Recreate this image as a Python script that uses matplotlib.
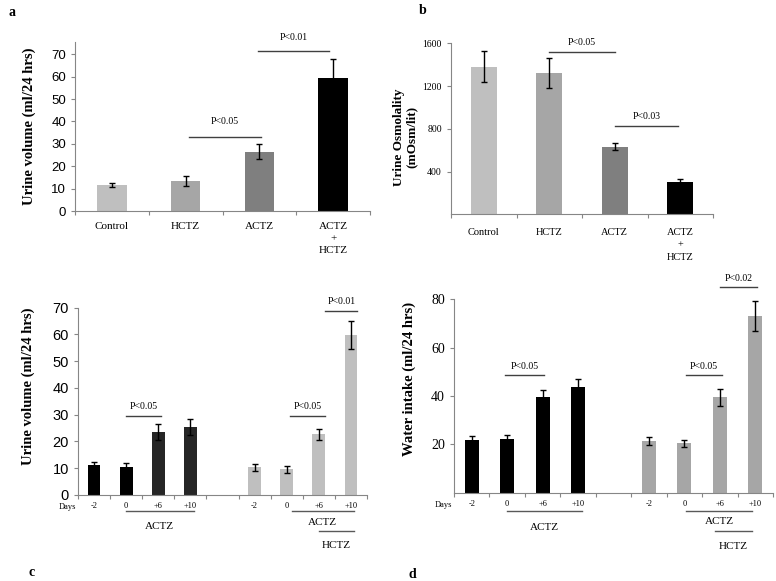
import numpy as np
import matplotlib
matplotlib.use('Agg')
import matplotlib.pyplot as plt

plt.rcParams['font.family'] = ['Liberation Serif', 'DejaVu Serif']

# panel a / b : four treatment groups
groups = ['Control', 'HCTZ', 'ACTZ', 'ACTZ\n+\nHCTZ']
colors4 = ['#bfbfbf', '#a6a6a6', '#7f7f7f', '#000000']
vol_a = [11.5, 13.5, 26.5, 59.5]
vol_a_err = [1.0, 2.3, 3.4, 8.5]
osm_b = [1380, 1320, 632, 300]
osm_b_err = [145, 140, 33, 32]

# panel c / d : time course (-2, 0, +6, +10 days), ACTZ and ACTZ+HCTZ
days = ['-2', '0', '+6', '+10']
vol_c1 = [11.2, 10.6, 23.7, 25.5]
vol_c1_err = [1.2, 1.2, 3.0, 2.9]
vol_c2 = [10.3, 9.7, 22.7, 59.8]
vol_c2_err = [1.3, 1.3, 2.0, 5.4]
wat_d1 = [21.8, 22.1, 39.7, 43.6]
wat_d1_err = [1.7, 1.8, 2.8, 3.4]
wat_d2 = [21.4, 20.4, 39.4, 73.2]
wat_d2_err = [1.6, 1.3, 3.5, 6.2]

W, H = 776, 581
fig = plt.figure(figsize=(W / 100, H / 100), dpi=100)
AX_C = '#868686'
BR_C = '#404040'


def box(x0, x1, ytop, ybot):
    return [x0 / W, 1 - ybot / H, (x1 - x0) / W, (ybot - ytop) / H]


def style(ax):
    for s in ['top', 'right']:
        ax.spines[s].set_visible(False)
    for s in ['left', 'bottom']:
        ax.spines[s].set_color(AX_C)
        ax.spines[s].set_linewidth(0.8)
    ax.tick_params(axis='y', length=3, color=AX_C, width=0.8)
    ax.tick_params(axis='x', which='major', length=0)
    ax.tick_params(axis='x', which='minor', length=3, color=AX_C, width=0.8)


def bracket(ax, x0, x1, y, ty, text):
    ax.plot([x0, x1], [y, y], color=BR_C, lw=1, clip_on=False)
    ax.text((x0 + x1) / 2, ty, text, ha='center', va='center', fontsize=7, clip_on=False)


def under(ax, x0, x1, y, ty, text):
    ax.plot([x0, x1], [y, y], color='#595959', lw=1, clip_on=False, transform=ax.get_xaxis_transform())
    ax.text((x0 + x1) / 2, ty, text, ha='center', va='center', fontsize=8,
            transform=ax.get_xaxis_transform(), clip_on=False)


ekw = dict(ecolor='black', elinewidth=1, capsize=2.5, capthick=1)

# ---- a ----
ax = fig.add_axes(box(75, 370, 42, 211))
x = np.arange(4)
ax.bar(x, vol_a, width=0.4, color=colors4, yerr=vol_a_err, error_kw=ekw)
ax.set_xlim(-0.5, 3.5)
ax.set_ylim(0, 75.5)
ax.set_yticks(range(0, 71, 10))
ax.set_xticks(x)
ax.set_xticks(np.arange(-0.5, 4, 1), minor=True)
ax.set_xticklabels(groups, fontsize=8, va='top', linespacing=1.45)
for t in ax.get_yticklabels():
    t.set_family(['Liberation Sans'])
    t.set_fontsize(9.5)
style(ax)
ax.tick_params(axis='x', which='major', pad=8)
ax.set_ylabel('Urine volume (ml/24 hrs)', fontsize=10.5, fontweight='bold')
ax.yaxis.set_label_coords(-0.133, 0.5)
bracket(ax, 1.05, 2.02, 33, 40, 'P<0.05')
bracket(ax, 1.98, 2.95, 71.5, 77.5, 'P<0.01')

# ---- b ----
ax = fig.add_axes(box(451, 713, 43.3, 214.3))
ax.bar(x, osm_b, width=0.4, color=colors4, yerr=osm_b_err, error_kw=ekw)
ax.set_xlim(-0.5, 3.5)
ax.set_ylim(0, 1600)
ax.set_yticks([400, 800, 1200, 1600])
ax.set_xticks(x)
ax.set_xticks(np.arange(-0.5, 4, 1), minor=True)
ax.set_xticklabels(groups, fontsize=7.5, va='top', linespacing=1.5)
ax.tick_params(axis='y', labelsize=7)
style(ax)
ax.tick_params(axis='x', which='major', pad=10)
ax.set_ylabel('Urine Osmolality\n(mOsm/lit)', fontsize=9.5, fontweight='bold', linespacing=1.1)
ax.yaxis.set_label_coords(-0.128, 0.45)
bracket(ax, 1.0, 2.0, 1518, 1603, 'P<0.05')
bracket(ax, 2.0, 2.97, 830, 915, 'P<0.03')

# ---- c / d ----
pos1 = np.arange(4)
pos2 = np.arange(5, 9)


def time_panel(rect, v1, e1, v2, e2, c1, c2, ylim, yticks, ylabel, lab_x, lab_y, tickfont, ticksize):
    ax = fig.add_axes(rect)
    ax.bar(pos1, v1, width=0.4, color=c1, yerr=e1, error_kw=ekw)
    ax.bar(pos2, v2, width=0.4, color=c2, yerr=e2, error_kw=ekw)
    ax.set_xlim(-0.5, 8.5)
    ax.set_ylim(*ylim)
    ax.set_yticks(yticks)
    ax.set_xticks(list(pos1) + list(pos2))
    ax.set_xticks(np.arange(-0.5, 9, 1), minor=True)
    ax.set_xticklabels(days + days, fontsize=6)
    for t in ax.get_yticklabels():
        t.set_family(tickfont)
        t.set_fontsize(ticksize)
    style(ax)
    ax.tick_params(axis='x', which='major', pad=5)
    ax.text(-0.55, -0.063, 'Days', fontsize=6, ha='right', va='center',
            transform=ax.get_xaxis_transform(), clip_on=False)
    ax.set_ylabel(ylabel, fontsize=10.5, fontweight='bold')
    ax.yaxis.set_label_coords(lab_x, lab_y)
    return ax


ax = time_panel(box(78, 367, 307.7, 495), vol_c1, vol_c1_err, vol_c2, vol_c2_err,
                ['#000000', '#000000', '#262626', '#262626'], '#bfbfbf',
                (0, 70), range(0, 71, 10), 'Urine volume (ml/24 hrs)', -0.15, 0.58,
                ['Liberation Sans'], 10.5)
bracket(ax, 1.0, 2.1, 29.6, 33, 'P<0.05')
bracket(ax, 6.1, 7.2, 29.6, 33, 'P<0.05')
bracket(ax, 7.2, 8.2, 68.9, 72.2, 'P<0.01')
under(ax, 1.0, 3.1, -0.085, -0.17, 'ACTZ')
under(ax, 6.15, 8.1, -0.085, -0.145, 'ACTZ')
under(ax, 7.0, 8.1, -0.19, -0.27, 'HCTZ')

ax = time_panel(box(454, 773, 299.3, 492.7), wat_d1, wat_d1_err, wat_d2, wat_d2_err,
                '#000000', '#a6a6a6',
                (0, 80), [20, 40, 60, 80], 'Water intake (ml/24 hrs)', -0.119, 0.59,
                ['Liberation Serif'], 10)
bracket(ax, 0.95, 2.05, 48.7, 52.2, 'P<0.05')
bracket(ax, 6.05, 7.05, 48.7, 52.2, 'P<0.05')
bracket(ax, 7.0, 8.05, 85.2, 88.7, 'P<0.02')
under(ax, 1.0, 3.1, -0.095, -0.18, 'ACTZ')
under(ax, 6.05, 7.92, -0.095, -0.15, 'ACTZ')
under(ax, 6.85, 7.92, -0.2, -0.28, 'HCTZ')

# panel letters
for lx, ly, s in [(12, 12, 'a'), (423, 10, 'b'), (32, 572, 'c'), (412, 574, 'd')]:
    fig.text(lx / W, 1 - ly / H, s, fontsize=10, fontweight='bold', ha='center', va='center')

fig.savefig('out.png', dpi=100)
